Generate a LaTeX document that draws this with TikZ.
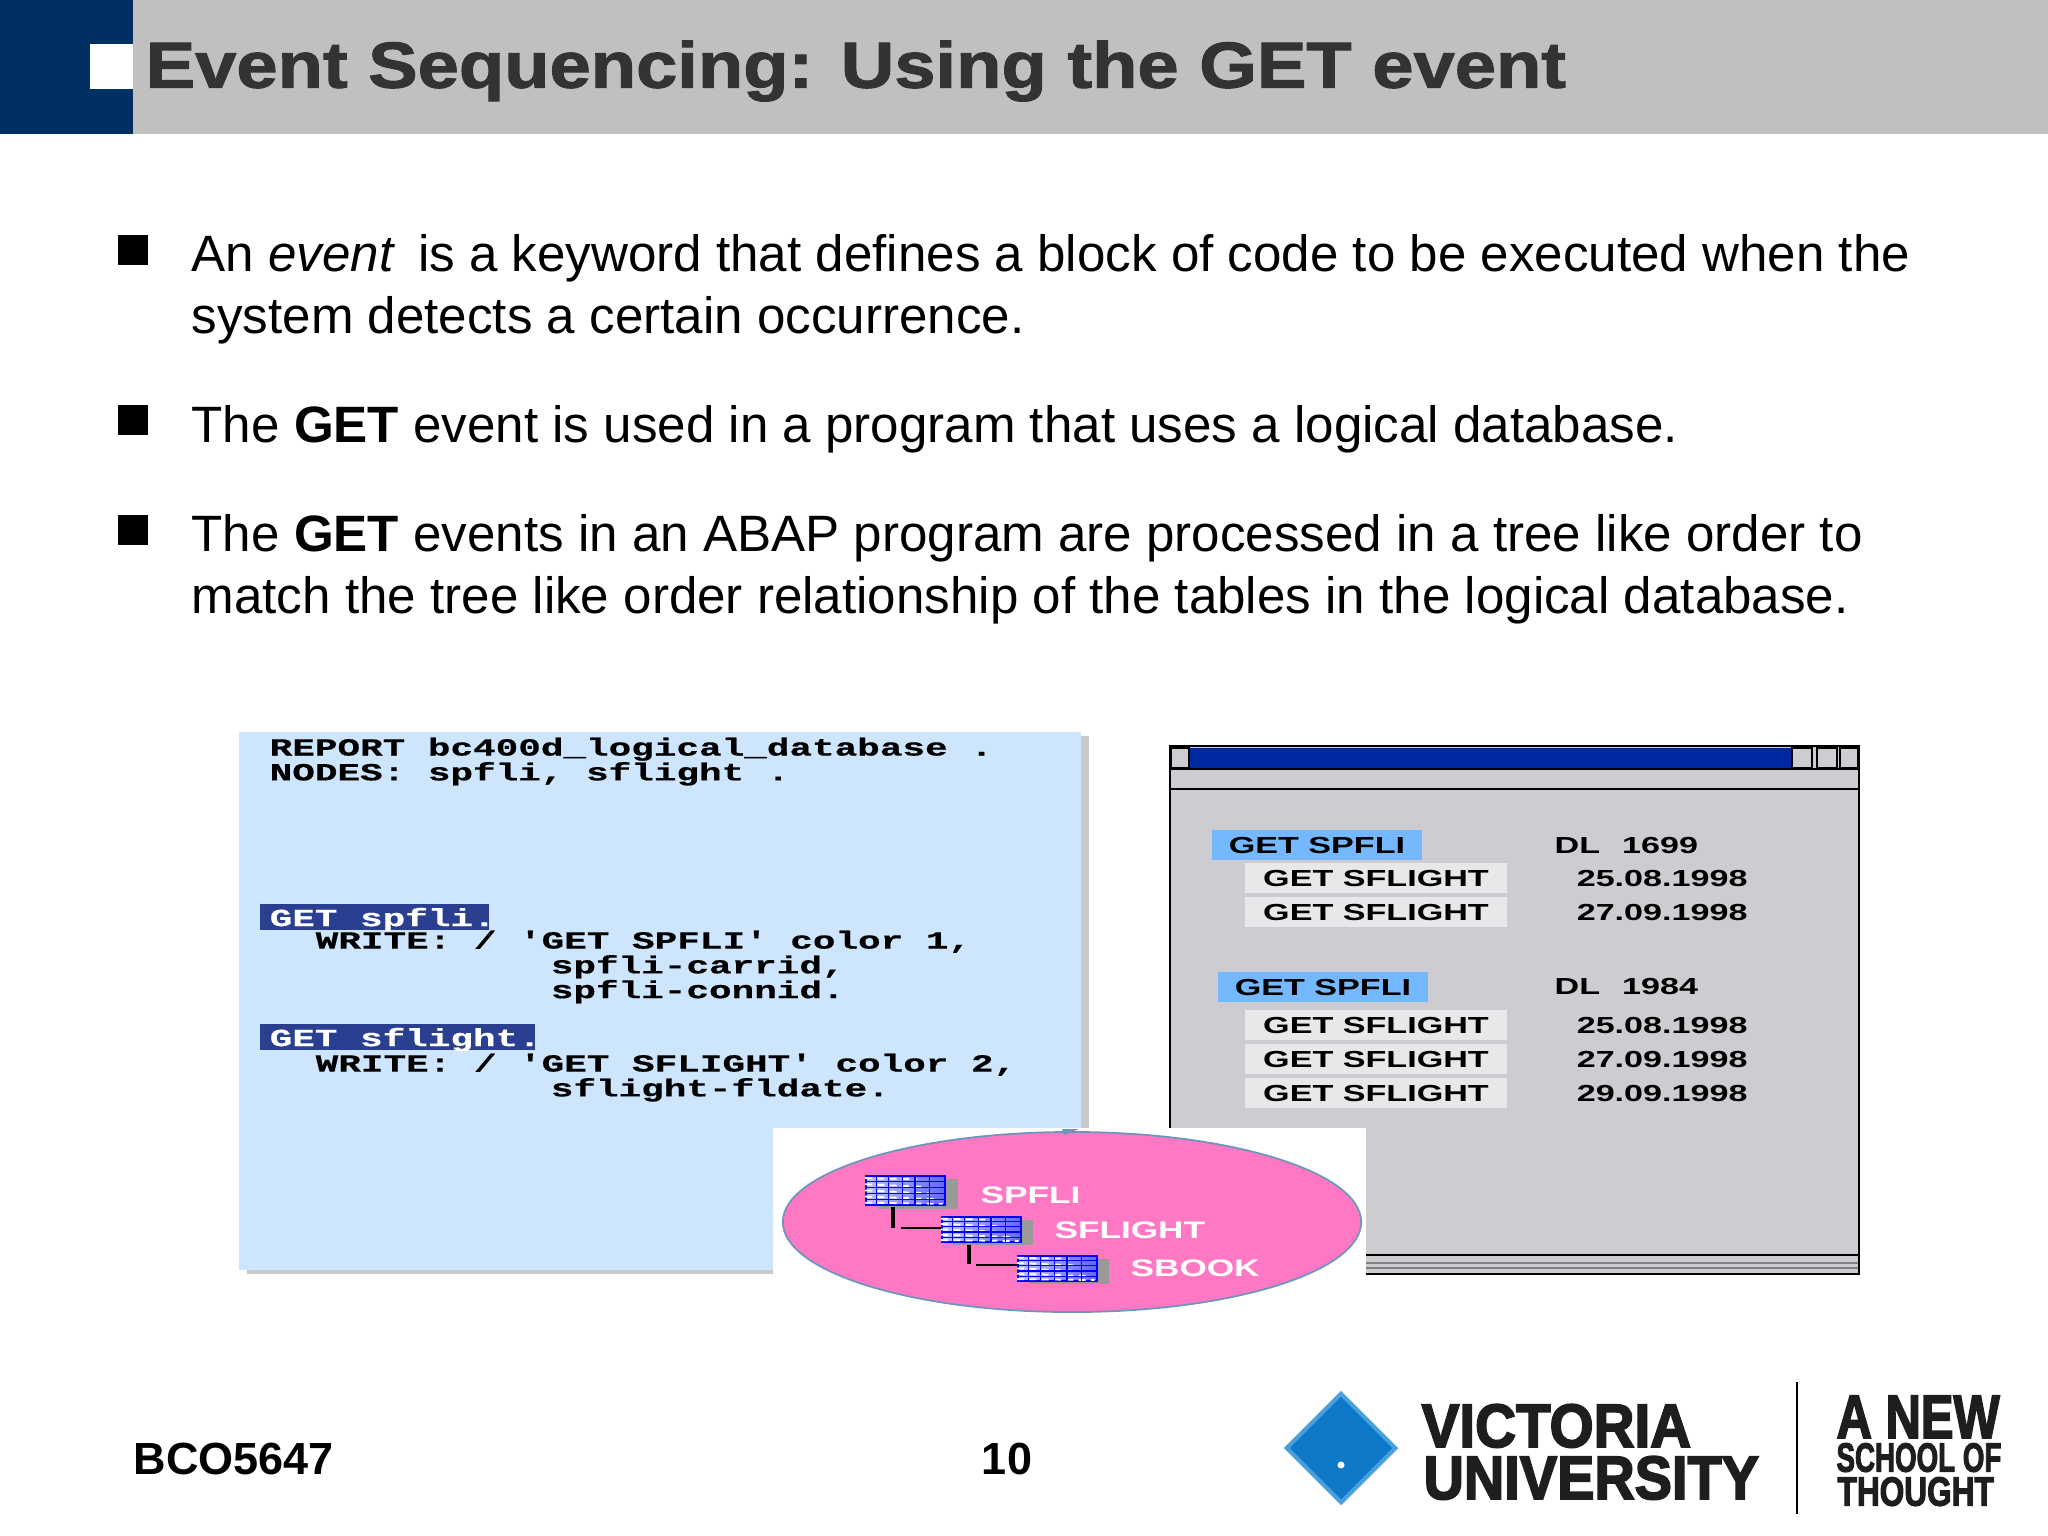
\documentclass[tikz,border=0pt]{standalone}
\usepackage{fontspec}
\usepackage{xcolor}
\usetikzlibrary{shapes.geometric, calc}
\setmainfont{Liberation Sans}
\newfontfamily\titlefont[FakeStretch=1.14,BoldFeatures={FakeBold=1.6}]{Liberation Sans}
\newfontfamily\codefont[FakeStretch=1.53,BoldFeatures={FakeBold=0.5}]{Liberation Mono}
\newfontfamily\screenfont[FakeStretch=1.47]{Liberation Sans}
\newfontfamily\logofont[BoldFeatures={FakeBold=3}]{Liberation Sans}
\newcommand{\tightlines}{\lineskiplimit=-5pt\relax}
\definecolor{headblue}{HTML}{003063}
\definecolor{headgray}{HTML}{C0C1BF}
\definecolor{titleink}{HTML}{333333}
\definecolor{codeback}{HTML}{CEE6FD}
\definecolor{codeshadow}{HTML}{C8C9CC}
\definecolor{codemark}{HTML}{2A3F8F}
\definecolor{windowgray}{HTML}{CDCCD0}
\definecolor{barblue}{HTML}{0028A0}
\definecolor{rowblue}{HTML}{74B8FF}
\definecolor{rowlight}{HTML}{E8E8EA}
\definecolor{dbpink}{HTML}{FF78C4}
\definecolor{dbedge}{HTML}{6D96BC}
\definecolor{vublue}{HTML}{0D79C8}
\definecolor{vuedge}{HTML}{4AA0DC}
\definecolor{vuink}{HTML}{1E1E20}

\begin{document}
\begin{tikzpicture}[x=0.01cm,y=-0.01cm,node distance=0.34cm,every node/.style={inner sep=0pt}]
%
% Skiss:
% header band, three bullets, code panel (left), list window (right),
% pink database ellipse on top of both, footer with logo
%
\tikzstyle{titletext} = [anchor=west, text=titleink, font=\titlefont\bfseries\fontsize{18.5}{22}\selectfont]
\tikzstyle{bullettext} = [anchor=west, align=left, font=\fontsize{14.54}{17.6}\selectfont]
\tikzstyle{bulletbox} = [rectangle, fill=black, minimum width=0.3cm, minimum height=0.3cm]
\tikzstyle{codetext} = [anchor=north west, align=left, font=\codefont\bfseries\fontsize{7}{7.05}\selectfont\tightlines]
\tikzstyle{codemarkbox} = [rectangle, fill=codemark, text=white, anchor=north west, minimum height=0.265cm, text depth=0pt, font=\codefont\bfseries\fontsize{7}{7.05}\selectfont]
\tikzstyle{getspfli} = [rectangle, fill=rowblue, minimum width=2.09cm, minimum height=0.3cm, font=\screenfont\bfseries\fontsize{6.6}{7}\selectfont]
\tikzstyle{getsflight} = [rectangle, fill=rowlight, minimum width=2.62cm, minimum height=0.3cm, font=\screenfont\bfseries\fontsize{6.6}{7}\selectfont]
\tikzstyle{rowvalue} = [font=\screenfont\bfseries\fontsize{6.6}{7}\selectfont]
\tikzstyle{dbtext} = [anchor=west, text=white, font=\screenfont\bfseries\fontsize{6.8}{7}\selectfont]
\tikzstyle{dbtable} = [rectangle, draw=blue, left color=white!75!blue, right color=blue!60!white, line width=0.5pt, anchor=north west]
\tikzstyle{dbshadow} = [rectangle, fill=gray!80, anchor=north west]
\tikzstyle{dbline} = [black]
\tikzstyle{footertext} = [font=\bfseries\fontsize{12.8}{15}\selectfont]
\tikzstyle{logotext} = [anchor=west, text=vuink, transform shape, text depth=0pt, font=\logofont\bfseries\fontsize{17.4}{20}\selectfont, text height=12.5pt]
\tikzstyle{logosmall} = [logotext, font=\logofont\bfseries\fontsize{11.6}{14}\selectfont, text height=8.3pt]
\tikzstyle{frameline} = [black, line width=0.7pt]
\tikzstyle{barbutton} = [rectangle, fill=windowgray, draw=black, line width=0.4pt, minimum height=0.2cm]

\path [use as bounding box, fill=white] (0,0) rectangle (2048,1536);

% Header
\fill [headgray] (133,0) rectangle (2048,134);
\fill [headblue] (0,0) rectangle (133,134);
\fill [white] (90,44) rectangle (133,89);
\node (title) [titletext] at (145,71) {Event Sequencing: Using the GET event};

% Bullets
\node (bulletA) [bulletbox] at (133,250) {};
\node (bulletB) [bulletbox] at (133,420) {};
\node (bulletC) [bulletbox] at (133,530) {};
\node (textA) [bullettext] at (191,289) {An \textit{event}\, is a keyword that defines a block of code to be executed when the\\system detects a certain occurrence.};
\node (textB) [bullettext] at (191,429) {The \textbf{GET} event is used in a program that uses a logical database.};
\node (textC) [bullettext] at (191,569) {The \textbf{GET} events in an ABAP program are processed in a tree like order to\\match the tree like order relationship of the tables in the logical database.};

% Code panel
\fill [codeshadow] (247,736) rectangle (1089,1274);
\fill [codeback] (239,732) rectangle (1081,1270);
\node (report) [codetext] at (269,737) {REPORT bc400d\_logical\_database .\\NODES: spfli, sflight .};
\node (markA) [codemarkbox] at (259,903) {\makebox[2.29cm][l]{\hspace{0.1cm}GET spfli.}};
\node (markB) [codemarkbox] at (259,1023) {\makebox[2.75cm][l]{\hspace{0.1cm}GET sflight.}};
\node (writeA) [codetext] at (315,930) {WRITE: / 'GET SPFLI' color 1,\\\hspace{2.35cm}spfli-carrid,\\\hspace{2.35cm}spfli-connid.};
\node (writeB) [codetext] at (315,1053) {WRITE: / 'GET SFLIGHT' color 2,\\\hspace{2.35cm}sflight-fldate.};

% List window
\fill [windowgray] (1170,746) rectangle (1859,1274);
\fill [barblue] (1190,748) rectangle (1791,768);
\node (btnLeft) [barbutton, minimum width=0.18cm] at (1180,758) {};
\node (btnA) [barbutton, minimum width=0.2cm] at (1802,758) {};
\node (btnB) [barbutton, minimum width=0.2cm] at (1827,758) {};
\node (btnC) [barbutton, minimum width=0.18cm] at (1849,758) {};
\draw [frameline] (1170,769) -- (1859,769);
\draw [frameline] (1170,789) -- (1859,789);
\draw [frameline] (1170,1255) -- (1859,1255);
\draw [gray, line width=0.4pt] (1170,1263) -- (1859,1263);
\draw [gray, line width=0.7pt] (1170,1268) -- (1859,1268);
\draw [black, line width=0.7pt] (1170,746) rectangle (1859,1274);

\node (spfliA) [getspfli] at (1317,845) {GET SPFLI};
\node (sflightA) [getsflight] at (1376,878) {GET SFLIGHT};
\node (sflightB) [getsflight, below of=sflightA] {GET SFLIGHT};
\node (dlA) [rowvalue, anchor=west] at (1554,845) {DL\hspace{0.22cm}1699};
\node (dateA) [rowvalue, right of=sflightA, xshift=2.52cm] {25.08.1998};
\node (dateB) [rowvalue, right of=sflightB, xshift=2.52cm] {27.09.1998};

\node (spfliB) [getspfli] at (1323,987) {GET SPFLI};
\node (sflightC) [getsflight] at (1376,1025) {GET SFLIGHT};
\node (sflightD) [getsflight, below of=sflightC] {GET SFLIGHT};
\node (sflightE) [getsflight, below of=sflightD] {GET SFLIGHT};
\node (dlB) [rowvalue, anchor=west] at (1554,986) {DL\hspace{0.22cm}1984};
\node (dateC) [rowvalue, right of=sflightC, xshift=2.52cm] {25.08.1998};
\node (dateD) [rowvalue, right of=sflightD, xshift=2.52cm] {27.09.1998};
\node (dateE) [rowvalue, right of=sflightE, xshift=2.52cm] {29.09.1998};

% Database ellipse
\fill [white] (773,1128) rectangle (1366,1314);
\node (database) [ellipse, fill=dbpink, draw=dbedge, line width=0.5pt, minimum width=5.78cm, minimum height=1.8cm] at (1072,1222) {};
\fill [dbedge] (1062,1129) -- (1079,1129) -- (1064,1135) -- cycle;

\node (shadowA) [dbshadow, minimum width=0.8cm, minimum height=0.3cm] at (877,1178) {};
\node (shadowB) [dbshadow, minimum width=0.8cm, minimum height=0.25cm] at (952,1219) {};
\node (shadowC) [dbshadow, minimum width=0.8cm, minimum height=0.25cm] at (1028,1258) {};
\node (tableA) [dbtable, minimum width=0.79cm, minimum height=0.29cm] at (865,1175) {};
\node (tableB) [dbtable, minimum width=0.79cm, minimum height=0.25cm] at (941,1216) {};
\node (tableC) [dbtable, minimum width=0.79cm, minimum height=0.25cm] at (1017,1255) {};
\foreach \tab in {tableA,tableB,tableC} {
  \foreach \f in {0.1,0.3,0.5,0.7,0.9}
    \draw [white, line width=0.5pt, dash pattern=on 2pt off 1.5pt] ($(\tab.north west)!\f!(\tab.south west)$) -- ($(\tab.north west)!\f!(\tab.south west)!0.6!(\tab.north east)!\f!(\tab.south east)$);
  \foreach \f in {0.14,0.29,0.46,0.62,0.8}
    \draw [blue, line width=0.35pt] ($(\tab.north west)!\f!(\tab.north east)$) -- ($(\tab.south west)!\f!(\tab.south east)$);
  \foreach \f in {0.2,0.4,0.6,0.8}
    \draw [blue, line width=0.35pt] ($(\tab.north west)!\f!(\tab.south west)$) -- ($(\tab.north east)!\f!(\tab.south east)$);
}
\node (labelA) [dbtext] at (980,1195) {SPFLI};
\node (labelB) [dbtext] at (1054,1230) {SFLIGHT};
\node (labelC) [dbtext] at (1130,1268) {SBOOK};

% Lines
\coordinate (downA) at (893,1207);
\coordinate (cornerA) at (893,1228);
\coordinate (joinA) at (901,1228);
\coordinate (downB) at (969,1245);
\coordinate (cornerB) at (969,1264);
\coordinate (joinB) at (976,1265);
\draw [dbline, line width=1pt] (downA) -- (cornerA);
\draw [dbline, line width=0.5pt] (joinA) -- (tableB.west |- joinA);
\draw [dbline, line width=1pt] (downB) -- (cornerB);
\draw [dbline, line width=0.7pt] (joinB) -- (tableC.west |- joinB);

% Footer
\node (course) [footertext, anchor=west] at (133,1459) {BCO5647};
\node (page) [footertext] at (1007,1459) {10};
\node (diamondOut) [diamond, fill=vuedge, minimum width=1.15cm, minimum height=1.15cm] at (1341,1448) {};
\node (diamondIn) [diamond, fill=vublue, minimum width=1.03cm, minimum height=1.03cm] at (diamondOut) {};
\node (diamondDot) [circle, fill=white, minimum size=0.07cm] at (1341,1465) {};
\node (victoria) [logotext, xscale=0.925] at (1421,1425) {VICTORIA};
\node (university) [logotext, xscale=0.913] at (1423,1477) {UNIVERSITY};
\draw [black, line width=0.5pt] (1797,1382) -- (1797,1514);
\node (anew) [logotext, xscale=0.8] at (1836,1416) {A NEW};
\node (school) [logosmall, xscale=0.68] at (1836,1457) {SCHOOL OF};
\node (thought) [logosmall, xscale=0.775] at (1837,1491) {THOUGHT};

\end{tikzpicture}
\end{document}
